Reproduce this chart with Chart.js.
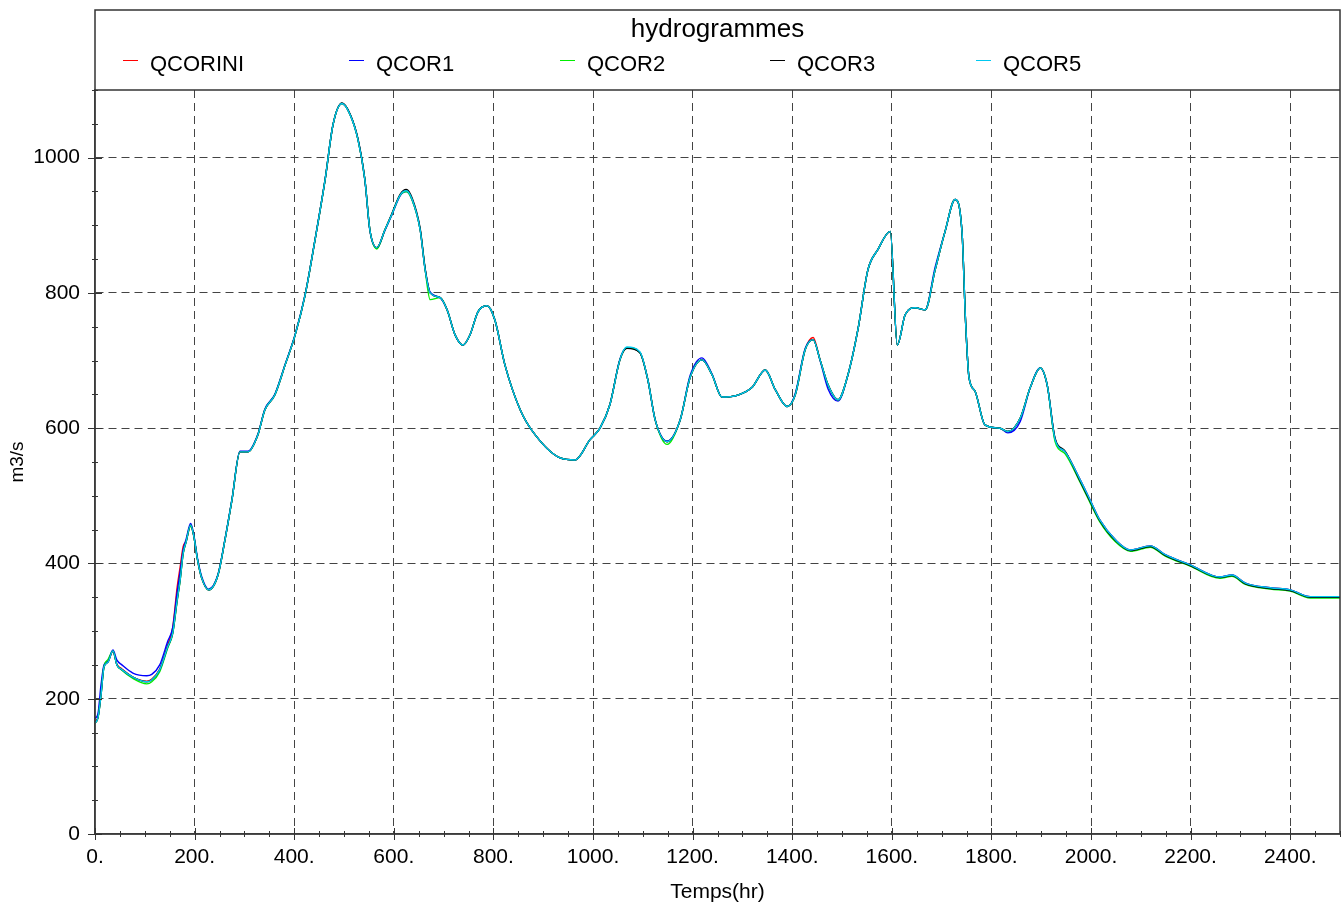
<!DOCTYPE html>
<html>
<head>
<meta charset="utf-8">
<script src="https://cdn.jsdelivr.net/npm/chart.js@4"></script>
<style>
  body { margin: 0; background: #fff; }
  #wrap { width: 1343px; height: 909px; }
</style>
</head>
<body>
<div id="wrap"><canvas id="hydroChart" width="1343" height="909"></canvas></div>
<script>
// temps (hr)
const times = [0, 6, 12, 18, 26, 36, 44, 54, 76, 104, 114, 130, 146, 156, 165, 171, 177, 183, 192, 198,
  206, 214, 228, 247, 261, 275, 291, 307, 327, 341, 361, 382, 402, 422, 442, 462, 478, 496, 512, 528,
  542, 552, 566, 582, 596, 613, 625, 637, 653, 663, 673, 693, 707, 723, 739, 753, 769, 787, 803, 823,
  854, 884, 934, 964, 994, 1014, 1034, 1054, 1068, 1094, 1110, 1125, 1149, 1175, 1195, 1219, 1239, 1259, 1291, 1319,
  1346, 1366, 1390, 1406, 1426, 1442, 1456, 1472, 1492, 1512, 1532, 1552, 1572, 1597, 1611, 1627, 1647, 1667, 1687, 1707,
  1727, 1741, 1748, 1755, 1767, 1787, 1817, 1833, 1858, 1878, 1898, 1912, 1928, 1948, 1978, 1998, 2018, 2049, 2079, 2119,
  2149, 2199, 2259, 2283, 2310, 2360, 2400, 2440, 2500];

// debits m3/s
const qcorini = [166, 173, 208, 248, 255, 270, 251, 244, 232, 226, 229, 244, 280, 305, 365, 395, 425, 433, 456, 442,
  405, 379, 361, 383, 435, 494, 565, 565, 590, 627, 649, 694, 738, 797, 879, 967, 1049, 1080, 1064, 1027,
  967, 893, 867, 893, 916, 945, 951, 938, 893, 834, 800, 793, 775, 738, 723, 738, 772, 781, 760, 694,
  627, 590, 556, 553, 583, 600, 635, 701, 719, 712, 672, 612, 580, 612, 675, 701, 679, 646, 649, 660,
  686, 657, 632, 649, 716, 734, 701, 664, 642, 679, 746, 834, 864, 891, 723, 768, 778, 775, 834, 891,
  938, 890, 760, 675, 655, 605, 600, 595, 615, 660, 689, 664, 583, 565, 524, 494, 464, 435, 420, 426,
  413, 398, 380, 383, 371, 364, 361, 351, 351];
const qcor1 = [171, 178, 220, 250, 256, 272, 257, 250, 238, 234, 236, 250, 285, 305, 358, 388, 420, 436, 459, 444,
  407, 381, 362, 384, 436, 495, 566, 566, 591, 628, 650, 695, 739, 798, 880, 968, 1049, 1080, 1064, 1027,
  966, 892, 866, 892, 915, 944, 950, 937, 893, 834, 801, 793, 775, 738, 723, 738, 772, 781, 760, 694,
  627, 590, 556, 553, 583, 600, 635, 702, 719, 712, 672, 612, 581, 612, 678, 704, 680, 646, 649, 660,
  686, 657, 632, 651, 718, 731, 700, 658, 640, 679, 746, 834, 864, 891, 723, 768, 778, 775, 838, 891,
  938, 890, 760, 675, 655, 605, 600, 593, 610, 660, 689, 664, 583, 565, 524, 494, 464, 435, 420, 426,
  413, 398, 380, 383, 371, 364, 361, 351, 351];
const qcor2 = [164, 172, 205, 247, 258, 270, 250, 242, 230, 222, 225, 240, 275, 296, 344, 375, 414, 432, 455, 442,
  405, 379, 361, 383, 435, 494, 565, 565, 590, 627, 649, 694, 738, 797, 879, 967, 1049, 1080, 1064, 1027,
  967, 893, 865, 893, 916, 945, 950, 937, 893, 834, 790, 793, 775, 738, 723, 738, 772, 781, 760, 694,
  627, 590, 556, 553, 583, 600, 635, 701, 719, 712, 672, 612, 576, 612, 675, 701, 679, 646, 649, 660,
  686, 657, 632, 649, 716, 731, 701, 664, 642, 679, 746, 834, 864, 891, 723, 768, 778, 775, 834, 891,
  938, 890, 760, 675, 655, 605, 600, 595, 615, 660, 689, 664, 580, 562, 520, 490, 461, 432, 418, 424,
  411, 396, 378, 381, 369, 362, 359, 349, 349];
const qcor3 = [164, 172, 205, 247, 254, 271, 250, 243, 232, 225, 228, 243, 277, 297, 346, 376, 415, 432, 457, 442,
  405, 379, 361, 383, 435, 494, 565, 565, 590, 627, 649, 694, 738, 797, 879, 967, 1049, 1081, 1065, 1028,
  967, 893, 867, 893, 917, 946, 953, 940, 895, 836, 800, 793, 775, 738, 723, 738, 772, 781, 760, 694,
  627, 590, 556, 553, 583, 600, 635, 701, 718, 712, 672, 612, 580, 612, 675, 701, 679, 646, 649, 660,
  686, 657, 632, 649, 716, 731, 701, 664, 642, 679, 746, 834, 864, 891, 723, 768, 778, 775, 834, 891,
  938, 890, 760, 675, 655, 605, 600, 595, 615, 660, 689, 664, 585, 566, 522, 492, 463, 434, 419, 425,
  412, 397, 379, 382, 370, 363, 360, 350, 350];
const qcor5 = [164, 172, 205, 247, 254, 271, 250, 243, 232, 225, 228, 243, 277, 297, 346, 376, 415, 432, 457, 442,
  405, 379, 361, 383, 435, 494, 565, 565, 590, 627, 649, 694, 738, 797, 879, 967, 1049, 1080, 1064, 1027,
  967, 893, 867, 893, 916, 945, 951, 938, 893, 834, 800, 793, 775, 738, 723, 738, 772, 781, 760, 694,
  627, 590, 556, 553, 583, 600, 635, 701, 720, 713, 672, 612, 580, 612, 675, 701, 679, 646, 649, 660,
  686, 657, 632, 649, 716, 731, 701, 664, 642, 679, 746, 834, 864, 891, 723, 768, 778, 775, 834, 891,
  938, 890, 760, 675, 655, 605, 600, 595, 615, 660, 689, 664, 583, 565, 524, 494, 464, 435, 420, 426,
  413, 398, 380, 383, 371, 364, 361, 351, 351];

const seriesNames = ['QCORINI', 'QCOR1', 'QCOR2', 'QCOR3', 'QCOR5'];
const seriesValues = [qcorini, qcor1, qcor2, qcor3, qcor5];
const seriesColors = ['#ff0000', '#0000ff', '#00ee00', '#000000', '#00c8f0'];

const xLabelStep = 200;   // labels "0." "200." ...
const yLabelStep = 200;
const minorStep = 50;

const FONT = 'Liberation Sans, Arial, Helvetica, sans-serif';
const legendTextX = [150, 376, 587, 797, 1003];

// cadre, legende et petites graduations
const framePlugin = {
    id: 'frame',
    afterDraw(chart) {
        const ctx = chart.ctx;
        const a = chart.chartArea;
        ctx.save();
        ctx.strokeStyle = '#333';
        ctx.lineWidth = 1.5;
        ctx.strokeRect(a.left, 10, a.right - a.left, a.bottom - 10);
        ctx.beginPath();
        ctx.moveTo(a.left, a.top);
        ctx.lineTo(a.right, a.top);
        ctx.stroke();

        // titre
        ctx.fillStyle = '#000';
        ctx.font = '26px ' + FONT;
        ctx.textAlign = 'center';
        ctx.textBaseline = 'alphabetic';
        ctx.fillText('hydrogrammes', (a.left + a.right) / 2, 37);

        // legende
        ctx.font = '22px ' + FONT;
        ctx.textAlign = 'left';
        chart.data.datasets.forEach((ds, i) => {
            const x = legendTextX[i];
            ctx.strokeStyle = ds.borderColor;
            ctx.lineWidth = 1;
            ctx.beginPath();
            ctx.moveTo(x - 27, 60.5);
            ctx.lineTo(x - 12, 60.5);
            ctx.stroke();
            ctx.fillStyle = '#000';
            ctx.fillText(ds.label, x, 71);
        });

        // graduations
        ctx.strokeStyle = '#333';
        ctx.lineWidth = 1;
        const xs = chart.scales.x;
        xs.ticks.forEach(t => {
            const px = Math.round(xs.getPixelForValue(t.value)) + 0.5;
            const h = t.value % xLabelStep === 0 ? 6 : 3;
            ctx.beginPath();
            ctx.moveTo(px, a.bottom - h);
            ctx.lineTo(px, a.bottom + h);
            ctx.stroke();
        });
        const ys = chart.scales.y;
        ys.ticks.forEach(t => {
            const py = Math.round(ys.getPixelForValue(t.value)) + 0.5;
            const w = t.value % yLabelStep === 0 ? 7 : 3;
            ctx.beginPath();
            ctx.moveTo(a.left - w, py);
            ctx.lineTo(a.left + w, py);
            ctx.stroke();
        });
        ctx.restore();
    }
};

// QCOR5 trace en dernier (au-dessus)
const datasets = seriesNames.map((name, i) => ({
    label: name,
    data: times.map((t, j) => ({ x: t, y: seriesValues[i][j] })),
    borderColor: seriesColors[i],
    borderWidth: 1.4,
    pointRadius: 0,
    fill: false,
    order: seriesNames.length - i,
    cubicInterpolationMode: 'monotone'
}));

const ctx = document.getElementById('hydroChart').getContext('2d');
const hydroChart = new Chart(ctx, {
    type: 'line',
    data: { datasets: datasets },
    options: {
        responsive: false,
        animation: false,
        layout: { padding: { top: 90, right: 3, left: 0, bottom: 0 } },
        plugins: {
            legend: { display: false },
            title: { display: false },
            tooltip: { enabled: false }
        },
        scales: {
            x: {
                type: 'linear',
                min: 0,
                max: 2500,
                afterFit(scale) {
                    scale.height = 75;
                    scale.paddingLeft = 0;
                    scale.paddingRight = 0;
                },
                ticks: {
                    stepSize: minorStep,
                    autoSkip: false,
                    maxRotation: 0,
                    padding: 11,
                    color: '#000',
                    font: { family: FONT, size: 21 },
                    callback: v => (v % xLabelStep === 0 && v < 2500) ? v + '.' : ''
                },
                grid: {
                    drawTicks: false,
                    lineWidth: 1,
                    color: c => (c.tick && c.tick.value % xLabelStep === 0 && c.tick.value > 0) ? '#444' : 'rgba(0,0,0,0)'
                },
                border: { color: '#555', width: 1.5, dash: [8, 5] },
                title: {
                    display: true,
                    text: 'Temps(hr)',
                    color: '#000',
                    font: { family: FONT, size: 21 },
                    padding: { top: 0, bottom: 4 }
                }
            },
            y: {
                min: 0,
                max: 1100,
                afterFit(scale) {
                    scale.width = 95;
                    scale.paddingTop = 0;
                    scale.paddingBottom = 0;
                },
                ticks: {
                    stepSize: minorStep,
                    autoSkip: false,
                    padding: 15,
                    color: '#000',
                    font: { family: FONT, size: 21 },
                    callback: v => v % yLabelStep === 0 ? String(v) : ''
                },
                grid: {
                    drawTicks: false,
                    lineWidth: 1,
                    color: c => (c.tick && c.tick.value % yLabelStep === 0 && c.tick.value > 0 && c.tick.value < 1100) ? '#444' : 'rgba(0,0,0,0)'
                },
                border: { color: '#555', width: 1.5, dash: [8, 5] },
                title: {
                    display: true,
                    text: 'm3/s',
                    color: '#000',
                    font: { family: FONT, size: 19 },
                    padding: { top: 6, bottom: 0 }
                }
            }
        }
    },
    plugins: [framePlugin]
});
</script>
</body>
</html>
